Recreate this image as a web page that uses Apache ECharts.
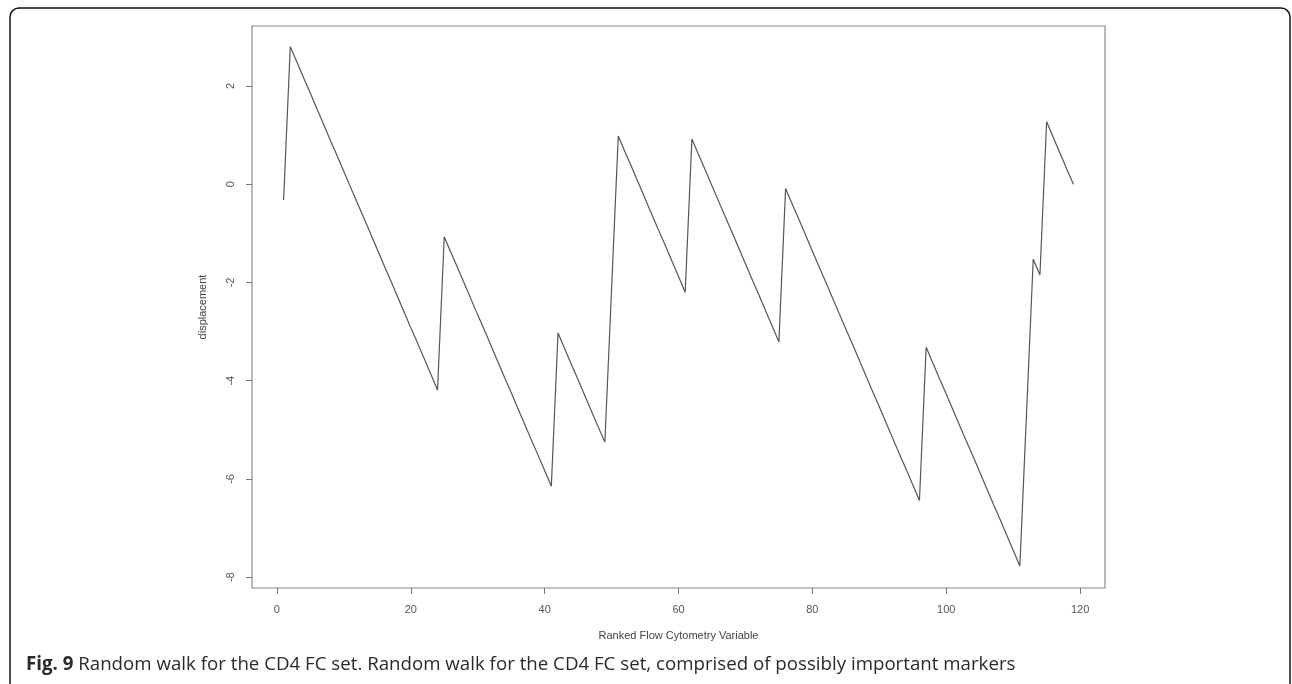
<!DOCTYPE html>
<html>
<head>
<meta charset="utf-8">
<script src="https://cdn.jsdelivr.net/npm/echarts@6/dist/echarts.min.js"></script>
<style>
html, body { margin: 0; padding: 0; background: #fff; }
#chart { width: 1292px; height: 684px; }
</style>
</head>
<body>
<div id="chart"></div>
<script>
// displacement of the random walk, one value per ranked variable (rank 1..119)
var displacement = [
	-0.32, 2.80, 2.48, 2.16, 1.85, 1.53, 1.21, 0.89, 0.58, 0.26,
	-0.06, -0.38, -0.69, -1.01, -1.33, -1.65, -1.96, -2.28, -2.60, -2.92,
	-3.23, -3.55, -3.87, -4.19, -1.07, -1.39, -1.70, -2.02, -2.34, -2.66,
	-2.97, -3.29, -3.61, -3.93, -4.24, -4.56, -4.88, -5.20, -5.51, -5.83,
	-6.15, -3.03, -3.35, -3.67, -3.98, -4.30, -4.62, -4.94, -5.25, -2.14,
	0.98, 0.66, 0.35, 0.03, -0.29, -0.61, -0.93, -1.24, -1.56, -1.88,
	-2.20, 0.92, 0.60, 0.29, -0.03, -0.35, -0.67, -0.98, -1.30, -1.62,
	-1.94, -2.25, -2.57, -2.89, -3.21, -0.09, -0.41, -0.72, -1.04, -1.36,
	-1.68, -1.99, -2.31, -2.63, -2.95, -3.26, -3.58, -3.90, -4.22, -4.53,
	-4.85, -5.17, -5.49, -5.80, -6.12, -6.44, -3.32, -3.64, -3.96, -4.27,
	-4.59, -4.91, -5.23, -5.54, -5.86, -6.18, -6.50, -6.81, -7.13, -7.45,
	-7.77, -4.65, -1.53, -1.85, 1.27, 0.95, 0.63, 0.31, 0.00
];
var xTicks = [0, 20, 40, 60, 80, 100, 120];
var yTicks = [-8, -6, -4, -2, 0, 2];

var xLabel = 'Ranked Flow Cytometry Variable';
var yLabel = 'displacement';
var captionBold = 'Fig. 9';
var captionText = ' Random walk for the CD4 FC set. Random walk for the CD4 FC set, comprised of possibly important markers';

var points = displacement.map(function (v, i) { return [i + 1, v]; });

var tickFont = { color: '#555', fontFamily: 'Liberation Sans', fontSize: 11 };

var chart = echarts.init(document.getElementById('chart'), null, { renderer: 'canvas' });
chart.setOption({
	animation: false,
	backgroundColor: '#fff',
	grid: {
		left: 252, top: 26, right: 187, bottom: 96,
		show: true, borderColor: '#8a8a8a', borderWidth: 1.2, backgroundColor: 'transparent'
	},
	xAxis: {
		type: 'value',
		min: -3.72, max: 123.72,
		axisLine: { show: false, onZero: false },
		splitLine: { show: false },
		axisTick: { show: true, inside: false, length: 6, customValues: xTicks, lineStyle: { color: '#777' } },
		axisLabel: Object.assign({ customValues: xTicks, margin: 16, showMinLabel: true, showMaxLabel: true }, tickFont),
		name: xLabel,
		nameLocation: 'middle',
		nameGap: 42,
		nameTextStyle: { color: '#444', fontFamily: 'Liberation Sans', fontSize: 11 }
	},
	yAxis: {
		type: 'value',
		min: -8.22, max: 3.22,
		axisLine: { show: false, onZero: false },
		splitLine: { show: false },
		axisTick: { show: true, inside: false, length: 6, customValues: yTicks, lineStyle: { color: '#777' } },
		axisLabel: Object.assign({ customValues: yTicks, margin: 16, rotate: 90, showMinLabel: true, showMaxLabel: true }, tickFont),
		name: yLabel,
		nameLocation: 'middle',
		nameRotate: 90,
		nameGap: 44,
		nameTextStyle: { color: '#444', fontFamily: 'Liberation Sans', fontSize: 11 }
	},
	series: [{
		type: 'line',
		data: points,
		showSymbol: false,
		lineStyle: { color: '#555', width: 1.2 }
	}],
	graphic: [
		{
			type: 'rect',
			shape: { x: 10, y: 8, width: 1280, height: 700, r: [9, 9, 0, 0] },
			style: { fill: 'none', stroke: '#111', lineWidth: 1.5 },
			silent: true
		},
		{
			type: 'text',
			left: 26, top: 655,
			style: {
				text: '{b|' + captionBold + '}' + captionText,
				fontFamily: 'Open Sans',
				fontSize: 18.7,
				fill: '#2a2a2a',
				rich: {
					b: { fontFamily: 'Open Sans', fontSize: 18.7, fontWeight: 'bold', fill: '#2a2a2a' }
				}
			}
		}
	]
});
</script>
</body>
</html>
